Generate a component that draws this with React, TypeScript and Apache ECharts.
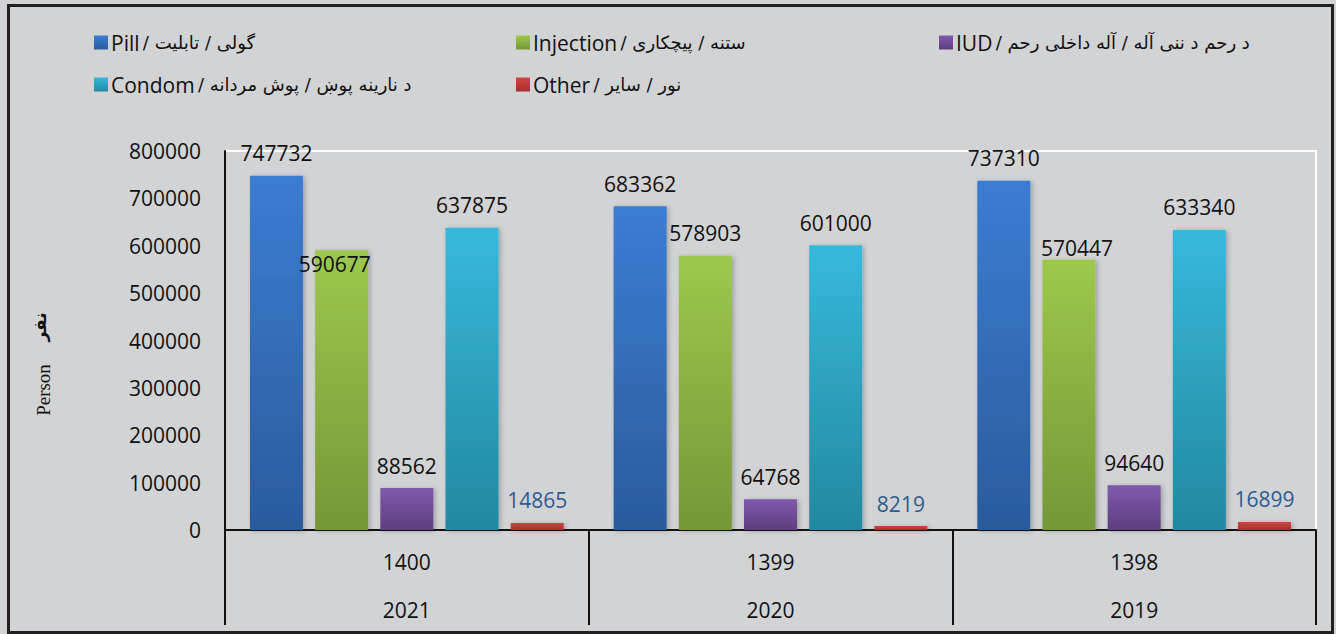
import React, { useEffect, useRef } from "react";
import * as echarts from "echarts";

const categories = ["1400", "1399", "1398"];
const gregorianYears = ["2021", "2020", "2019"];
const seriesNames = [
  "Pill / گولی / تابلیت",
  "Injection / ستنه / پیچکاری",
  "IUD / د رحم د ننی آله / آله داخلی رحم",
  "Condom / د نارینه پوښ / پوش مردانه",
  "Other / نور / سایر",
];
const pill = [747732, 683362, 737310];
const injection = [590677, 578903, 570447];
const iud = [88562, 64768, 94640];
const condom = [637875, 601000, 633340];
const other = [14865, 8219, 16899];
const yTicks = { min: 0, max: 800000, interval: 100000 };

const gradients: [string, string][] = [
  ["#3b7dd2", "#2b5b9c"],
  ["#9cc94c", "#769639"],
  ["#8059ad", "#5d3e7e"],
  ["#37b9dc", "#2388a0"],
  ["#d44242", "#a92f2f"],
];

const FONT = "'Open Sans', 'DejaVu Sans', sans-serif";
const AR_FONT = "'DejaVu Sans', sans-serif";

export default function App() {
  const ref = useRef<HTMLDivElement>(null);
  useEffect(() => {
    document.body.style.margin = "0";
    if (!ref.current) return;
    const chart = echarts.init(ref.current, undefined, { renderer: "svg" });
    const values = [pill, injection, iud, condom, other];
    const labelOffsets: Record<string, [number, number]> = {
      "1-0": [-7, 36],
      "1-2": [8, 11],
    };
    const legendFormatter = (name: string) => {
      const idx = name.indexOf(" / ");
      const en = name.slice(0, idx);
      const ar = name.slice(idx + 1);
      return `{en|${en}} {ar|${ar}}`;
    };
    const legendRich = {
      en: { fontFamily: FONT, fontSize: 21, color: "#111", lineHeight: 26 },
      ar: { fontFamily: AR_FONT, fontSize: 18, color: "#111", lineHeight: 26 },
    };
    const mkLegend = (names: string[], left: number) => ({
      data: names,
      left,
      top: 27,
      orient: "vertical",
      itemWidth: 14,
      itemHeight: 14,
      itemGap: 21,
      icon: "rect",
      selectedMode: false,
      formatter: legendFormatter,
      textStyle: { rich: legendRich, padding: [0, 0, 0, -2] },
    });
    chart.setOption({
      animation: false,
      backgroundColor: "#d2d3d5",
      legend: [
        mkLegend([seriesNames[0], seriesNames[3]], 89),
        mkLegend([seriesNames[1], seriesNames[4]], 511),
        mkLegend([seriesNames[2]], 934),
      ],
      grid: {
        left: 225,
        right: 20,
        top: 151,
        bottom: 103,
        show: true,
        borderColor: "#ffffff",
        borderWidth: 2,
        backgroundColor: "transparent",
      },
      xAxis: {
        type: "category",
        data: categories,
        axisLine: { show: true, lineStyle: { color: "#111", width: 2 } },
        axisTick: { show: true, length: 95, lineStyle: { color: "#111", width: 2 } },
        axisLabel: {
          formatter: (v: string, i: number) => `${v}\n${gregorianYears[i]}`,
          fontFamily: FONT,
          fontSize: 21,
          color: "#111",
          lineHeight: 48,
          margin: 8,
        },
      },
      yAxis: {
        type: "value",
        min: yTicks.min,
        max: yTicks.max,
        interval: yTicks.interval,
        splitLine: { show: false },
        axisLine: { show: true, lineStyle: { color: "#111", width: 2 } },
        axisTick: { show: false },
        axisLabel: {
          fontFamily: FONT,
          fontSize: 21,
          color: "#111",
          margin: 24,
          formatter: (v: number) => String(v),
        },
      },
      series: values.map((arr, si) => ({
        type: "bar",
        name: seriesNames[si],
        barWidth: 53,
        barGap: "23%",
        data: arr.map((v, di) => {
          const off = labelOffsets[`${si}-${di}`];
          return off ? { value: v, label: { offset: off } } : v;
        }),
        itemStyle: {
          color: new echarts.graphic.LinearGradient(0, 0, 0, 1, [
            { offset: 0, color: gradients[si][0] },
            { offset: 1, color: gradients[si][1] },
          ]),
          shadowBlur: 5,
          shadowColor: "rgba(0,0,0,0.25)",
          shadowOffsetX: 2,
          shadowOffsetY: 1,
        },
        label: {
          show: true,
          position: "top",
          distance: 12,
          fontFamily: FONT,
          fontSize: 21,
          color: si === 4 ? "#2f5b8e" : "#111",
        },
      })),
      graphic: [
        {
          type: "rect",
          shape: { x: 8.5, y: 5.5, width: 1324, height: 627 },
          style: { fill: "none", stroke: "#231f20", lineWidth: 3 },
          silent: true,
        },
        {
          type: "text",
          x: 40,
          y: 327,
          rotation: Math.PI / 2,
          style: {
            text: "نفر",
            fontFamily: AR_FONT,
            fontWeight: "bold",
            fontSize: 17,
            fill: "#111",
            align: "center",
            verticalAlign: "middle",
          },
        },
        {
          type: "text",
          x: 43,
          y: 390,
          rotation: Math.PI / 2,
          style: {
            text: "Person",
            fontFamily: "'Liberation Serif', serif",
            fontSize: 19,
            fill: "#111",
            align: "center",
            verticalAlign: "middle",
          },
        },
      ],
    });
    return () => chart.dispose();
  }, []);
  return (
    <div
      ref={ref}
      style={{ position: "absolute", left: 0, top: 0, width: 1336, height: 634 }}
    />
  );
}
